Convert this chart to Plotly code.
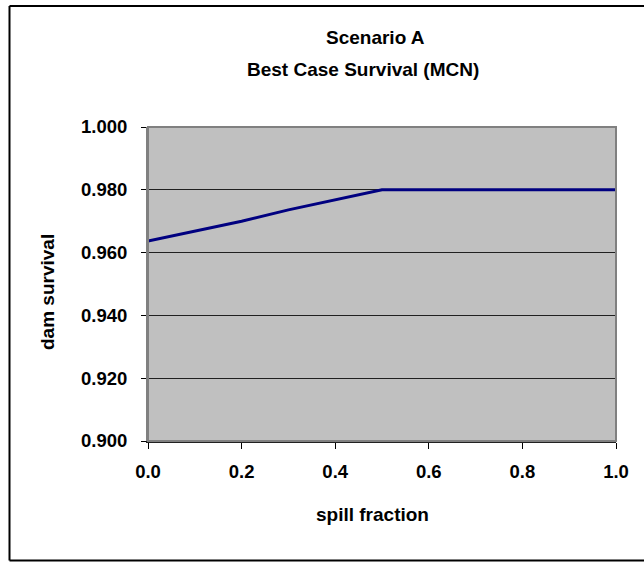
import plotly.graph_objects as go

# Spill fraction vs. dam survival, best case (MCN)
spill_fraction = [0.0, 0.1, 0.2, 0.3, 0.4, 0.5, 0.6, 0.7, 0.8, 0.9, 1.0]
dam_survival = [0.9637, 0.9668, 0.9700, 0.9736, 0.9769, 0.9800,
                0.9800, 0.9800, 0.9800, 0.9800, 0.9800]

y_ticks = [0.900, 0.920, 0.940, 0.960, 0.980, 1.000]
x_ticks = [0.0, 0.2, 0.4, 0.6, 0.8, 1.0]

title_line1 = "Scenario A"
title_line2 = "Best Case Survival (MCN)"
x_title = "spill fraction"
y_title = "dam survival"

FONT = "Liberation Sans, Arial, sans-serif"
W, H = 644, 562
L, R, T, B = 148, 28, 127, 121
PW, PH = W - L - R, H - T - B


def px_to_paper_x(px):
    return (px - L) / PW


def px_to_paper_y(py):
    return (H - B - py) / PH


fig = go.Figure()
fig.add_trace(go.Scatter(
    x=spill_fraction, y=dam_survival, mode="lines",
    line=dict(color="#000080", width=3),
    hoverinfo="x+y", showlegend=False,
))

axis_font = dict(family=FONT, size=18.5, color="black", weight="bold")

fig.update_layout(
    width=W, height=H,
    margin=dict(l=L, r=R, t=T, b=B, pad=0),
    paper_bgcolor="white",
    plot_bgcolor="#C0C0C0",
    font=dict(family=FONT, color="black"),
    xaxis=dict(
        range=[0, 1], tickvals=x_ticks,
        ticktext=[f"{v:.1f}" for v in x_ticks],
        ticks="outside", ticklen=6, tickcolor="black", tickwidth=1,
        showgrid=False, zeroline=False,
        showline=True, linecolor="#202020", linewidth=2,
        tickfont=axis_font, ticklabelstandoff=7,
    ),
    yaxis=dict(
        range=[0.9, 1.0], tickvals=y_ticks,
        ticktext=[f"{v:.3f}" for v in y_ticks],
        ticks="outside", ticklen=5, tickcolor="black", tickwidth=1,
        showgrid=True, gridcolor="#202020", gridwidth=1,
        zeroline=False,
        showline=True, linecolor="#808080", linewidth=2,
        tickfont=axis_font, ticklabelstandoff=10,
    ),
)

# plot-area frame
fig.add_shape(type="rect", xref="paper", yref="paper",
              x0=0, x1=1, y0=0, y1=1,
              line=dict(color="#808080", width=2), layer="above")

# chart frame (left, top, bottom edges)
fx0, fx1, fy0, fy1 = 9.5, 650, 6, 560.5
for (a, b, c, d) in [(fx0, fy0, fx0, fy1), (fx0, fy0, fx1, fy0), (fx0, fy1, fx1, fy1)]:
    fig.add_shape(type="line", xref="paper", yref="paper",
                  x0=px_to_paper_x(a), y0=px_to_paper_y(b),
                  x1=px_to_paper_x(c), y1=px_to_paper_y(d),
                  line=dict(color="black", width=2))

title_font = dict(family=FONT, size=19, color="black", weight="bold")
for text, cx, cy in [(title_line1, 375, 38), (title_line2, 363, 69)]:
    fig.add_annotation(text=text, xref="paper", yref="paper",
                       x=px_to_paper_x(cx), y=px_to_paper_y(cy),
                       xanchor="center", yanchor="middle",
                       showarrow=False, font=title_font)

fig.add_annotation(text=x_title, xref="paper", yref="paper",
                   x=px_to_paper_x(372), y=px_to_paper_y(514),
                   xanchor="center", yanchor="middle",
                   showarrow=False, font=title_font)
fig.add_annotation(text=y_title, xref="paper", yref="paper",
                   x=px_to_paper_x(47), y=px_to_paper_y(292),
                   xanchor="center", yanchor="middle", textangle=-90,
                   showarrow=False, font=title_font)

fig.write_html("out.html")
